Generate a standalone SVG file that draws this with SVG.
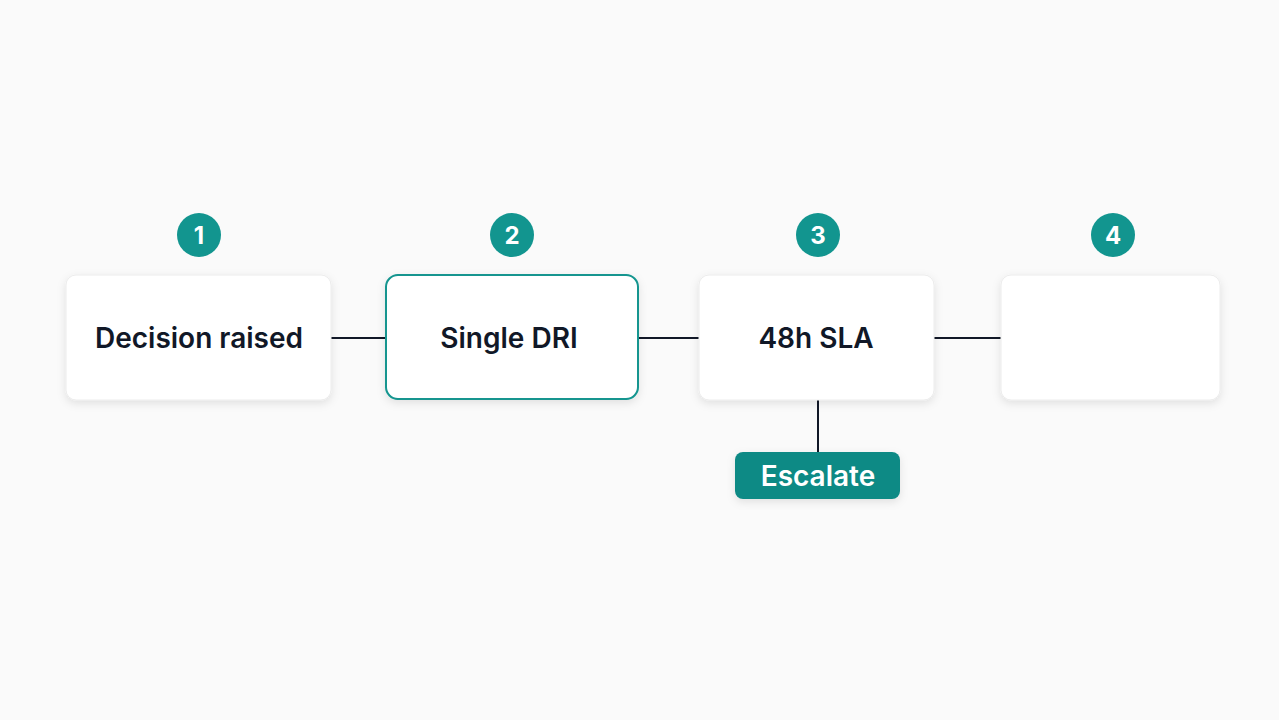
<svg xmlns="http://www.w3.org/2000/svg" width="1279" height="720" viewBox="0 0 1279 720">
<defs>
<filter id="sh" x="-20%" y="-30%" width="140%" height="170%"><feDropShadow dx="0" dy="3" stdDeviation="4" flood-color="#000" flood-opacity="0.10"/></filter>
<style>
.card{fill:#ffffff;stroke:#ececec;stroke-width:1;filter:url(#sh)}
.badge{fill:#12958f}
.bn{font-family:Inter,"Liberation Sans",sans-serif;font-weight:700;font-size:24px;fill:#fff;text-anchor:middle}
.lbl{font-family:Inter,"Liberation Sans",sans-serif;font-weight:600;font-size:28px;fill:#111827;text-anchor:middle}
.ln{stroke:#111827;stroke-width:2;fill:none}
</style>
</defs>
<rect width="1279" height="720" fill="#fafafa"/>
<g id="connectors">
<line class="ln" x1="331" y1="338" x2="386" y2="338"/>
<line class="ln" x1="638" y1="338" x2="699" y2="338"/>
<line class="ln" x1="934" y1="338" x2="1001" y2="338"/>
<line class="ln" x1="818" y1="400" x2="818" y2="452"/>
</g>
<g id="n1"><circle class="badge" cx="199" cy="235" r="22"/><text class="bn" x="199" y="244">1</text>
<rect class="card" x="66" y="275" width="265" height="125" rx="10"/><text class="lbl" x="199" y="348">Decision raised</text></g>
<g id="n2"><circle class="badge" cx="512" cy="235" r="22"/><text class="bn" x="512" y="244">2</text>
<rect class="card" x="386" y="275" width="252" height="124" rx="12" style="stroke:#12958f;stroke-width:2"/><text class="lbl" x="509" y="348">Single DRI</text></g>
<g id="n3"><circle class="badge" cx="818" cy="235" r="22"/><text class="bn" x="818" y="244">3</text>
<rect class="card" x="699" y="275" width="235" height="125" rx="10"/><text class="lbl" x="816" y="348">48h SLA</text></g>
<g id="n4"><circle class="badge" cx="1113" cy="235" r="22"/><text class="bn" x="1113" y="244">4</text>
<rect class="card" x="1001" y="275" width="219" height="125" rx="10"/></g>
<g id="escalate"><rect x="735" y="452" width="165" height="47" rx="8" fill="#0e8a85" filter="url(#sh)"/><text class="lbl" x="818" y="486" style="fill:#fff">Escalate</text></g>
</svg>
